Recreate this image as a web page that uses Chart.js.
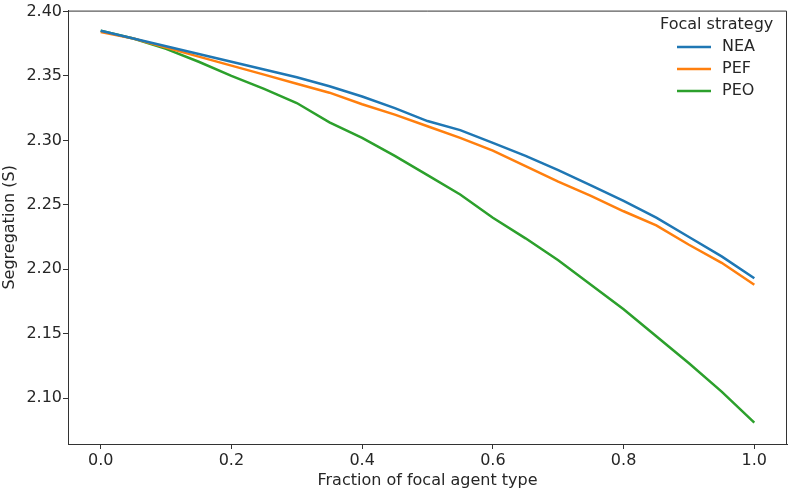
<!DOCTYPE html>
<html>
<head>
<meta charset="utf-8">
<script src="https://cdn.jsdelivr.net/npm/chart.js@4/dist/chart.umd.min.js"></script>
<style>
  html, body { margin: 0; padding: 0; background: #fff; }
  #wrap { width: 788px; height: 491px; }
</style>
</head>
<body>
<div id="wrap"><canvas id="segchart"></canvas></div>
<script>
// fraction of focal agent type (x) and segregation values per strategy
const fractions = [0.0, 0.05, 0.1, 0.15, 0.2, 0.25, 0.3, 0.35, 0.4, 0.45, 0.5,
                   0.55, 0.6, 0.65, 0.7, 0.75, 0.8, 0.85, 0.9, 0.95, 1.0];
const nea = [2.385, 2.379, 2.373, 2.367, 2.361, 2.355, 2.349, 2.342, 2.334, 2.325, 2.315,
             2.308, 2.298, 2.288, 2.277, 2.265, 2.253, 2.240, 2.225, 2.210, 2.193];
const pef = [2.384, 2.379, 2.372, 2.365, 2.358, 2.351, 2.344, 2.337, 2.328, 2.320, 2.311,
             2.302, 2.292, 2.280, 2.268, 2.257, 2.245, 2.234, 2.219, 2.205, 2.188];
const peo = [2.385, 2.379, 2.371, 2.361, 2.350, 2.340, 2.329, 2.314, 2.302, 2.288, 2.273,
             2.258, 2.240, 2.224, 2.207, 2.188, 2.169, 2.148, 2.127, 2.105, 2.081];
const seriesNames = ['NEA', 'PEF', 'PEO'];
const seriesColors = ['#1f77b4', '#ff7f0e', '#2ca02c'];
const xTicks = [0.0, 0.2, 0.4, 0.6, 0.8, 1.0];
const yTicks = [2.10, 2.15, 2.20, 2.25, 2.30, 2.35, 2.40];
const legendTitle = 'Focal strategy';

const FONT = 'DejaVu Sans';
const FS = 16;
const INK = '#262626';

function pts(ys) {
    return fractions.map((x, i) => ({x: x, y: ys[i]}));
}

const seriesValues = [nea, pef, peo];
const datasets = seriesNames.map((name, i) => ({
    label: name,
    data: pts(seriesValues[i]),
    borderColor: seriesColors[i],
    backgroundColor: seriesColors[i],
    borderWidth: 2.5,
    pointRadius: 0,
    tension: 0,
    fill: false
}));

// top + right spines, matplotlib style box
const framePlugin = {
    id: 'frame',
    afterDraw(chart) {
        const a = chart.chartArea, c = chart.ctx;
        c.save();
        c.strokeStyle = '#333';
        c.lineWidth = 1;
        c.beginPath();
        c.moveTo(a.left, a.top + 0.5);
        c.lineTo(a.right - 0.5, a.top + 0.5);
        c.lineTo(a.right - 0.5, a.bottom);
        c.stroke();
        c.restore();
    }
};

// legend drawn inside the axes, top right
const legendPlugin = {
    id: 'mplLegend',
    afterDraw(chart) {
        const c = chart.ctx;
        c.save();
        c.fillStyle = INK;
        c.font = FS + 'px ' + FONT;
        c.textBaseline = 'middle';
        c.textAlign = 'left';
        c.fillText(legendTitle, 660, 25);
        chart.data.datasets.forEach((ds, i) => {
            const y = 47 + i * 22;
            c.strokeStyle = ds.borderColor;
            c.lineWidth = 2.5;
            c.beginPath();
            c.moveTo(677, y);
            c.lineTo(711, y);
            c.stroke();
            c.fillStyle = INK;
            c.fillText(ds.label, 722, y);
        });
        c.restore();
    }
};

const ctx = document.getElementById('segchart').getContext('2d');
new Chart(ctx, {
    type: 'line',
    data: {datasets: datasets},
    options: {
        responsive: true,
        maintainAspectRatio: false,
        animation: false,
        layout: {padding: {top: 5, right: 1, left: 0, bottom: 0}},
        plugins: {legend: {display: false}, tooltip: {enabled: false}},
        scales: {
            x: {
                type: 'linear',
                min: -0.05,
                max: 1.05,
                afterBuildTicks(scale) { scale.ticks = xTicks.map(v => ({value: v})); },
                afterFit(scale) { scale.height = 47; },
                ticks: {
                    color: INK,
                    font: {family: FONT, size: FS},
                    padding: 2,
                    maxRotation: 0,
                    callback: v => v.toFixed(1)
                },
                grid: {drawOnChartArea: false, drawTicks: true, tickLength: 5, color: '#333'},
                border: {display: true, color: '#333', width: 1},
                title: {
                    display: true,
                    text: 'Fraction of focal agent type',
                    color: INK,
                    font: {family: FONT, size: FS},
                    padding: {top: 0, bottom: 1}
                }
            },
            y: {
                min: 2.0644,
                max: 2.4007,
                afterBuildTicks(scale) { scale.ticks = yTicks.map(v => ({value: v})); },
                afterFit(scale) { scale.width = 68; },
                ticks: {
                    color: INK,
                    font: {family: FONT, size: FS},
                    padding: 1,
                    callback: v => v.toFixed(2)
                },
                grid: {drawOnChartArea: false, drawTicks: true, tickLength: 5, color: '#333'},
                border: {display: true, color: '#333', width: 1},
                title: {
                    display: true,
                    text: 'Segregation (S)',
                    color: INK,
                    font: {family: FONT, size: FS},
                    padding: {top: 0, bottom: 0}
                }
            }
        }
    },
    plugins: [framePlugin, legendPlugin]
});
</script>
</body>
</html>
